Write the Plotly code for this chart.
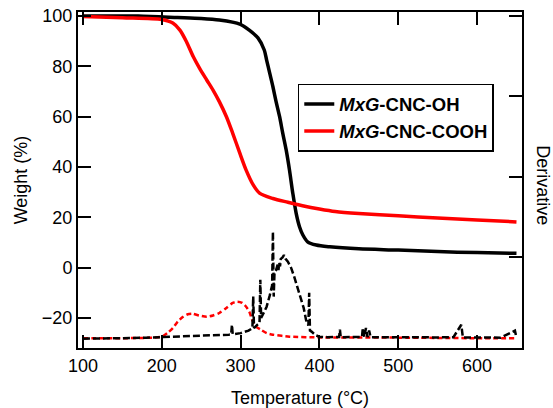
import plotly.graph_objects as go

# ---- Data ----
# TGA weight curves (Weight %, vs Temperature °C)
t_oh = [100, 170, 220, 250, 273, 299, 311, 322, 330, 333, 337, 341, 345, 349.4, 353.5,
        357.8, 362, 366.2, 370.5, 374.7, 379, 385, 396, 413, 450, 500, 550, 600, 650]
w_oh = [100.0, 100.0, 99.4, 99.0, 98.4, 96.8, 94.4, 91.3, 86.5, 82.5, 77.2, 71.9, 66, 60.1, 53.4,
        46.8, 38.8, 29.6, 21.6, 16.3, 13, 10.3, 9.0, 8.3, 7.5, 7.0, 6.4, 6.0, 5.7]

t_cooh = [100, 150, 200, 214, 223, 231, 240, 248, 257, 265, 273, 282, 290, 299, 307,
          316, 324, 341, 360, 380, 400, 420, 450, 500, 550, 600, 650]
w_cooh = [99.8, 99.3, 98.6, 97.2, 94.4, 90.0, 83.8, 79.2, 74.6, 70.6, 66.0, 60.0, 53.4,
          45.5, 38.8, 32.9, 29.6, 27.5, 26.0, 24.5, 23.3, 22.3, 21.5, 20.6, 19.8, 19.0, 18.2]

# Derivative curves (arbitrary units on the right-hand axis)
td_oh = [100, 120, 150, 180, 200, 230, 260, 285, 288, 289, 290, 300, 310, 315, 316, 317, 320,
         324, 325, 326, 330, 333, 337, 340, 341, 342, 343, 345, 347, 348, 349, 350, 351, 353,
         355, 357, 360, 364, 368, 372, 377, 380, 383, 386, 387, 388, 390, 395, 400, 410, 425,
         426, 427, 440, 454, 455, 457, 459, 461, 463, 465, 480, 500, 520, 550, 570, 580, 582,
         600, 630, 648, 650]
d_oh = [-0.017, -0.011, -0.011, -0.004, 0.002, 0.008, 0.021, 0.033, 0.036, 0.156, 0.036, 0.052,
        0.083, 0.115, 0.507, 0.115, 0.146, 0.177, 0.717, 0.240, 0.319, 0.381, 0.522, 0.648,
        1.315, 0.507, 0.804, 0.836, 0.905, 0.836, 0.930, 0.883, 0.977, 0.992, 1.024, 0.977,
        0.942, 0.867, 0.754, 0.632, 0.469, 0.366, 0.218, 0.146, 0.554, 0.083, 0.071, 0.027,
        0.008, 0.002, 0.005, 0.096, 0.002, 0.002, 0.005, 0.115, 0.005, 0.115, 0.002, 0.083,
        0.002, 0.002, -0.001, 0.002, -0.001, 0.002, 0.156, -0.001, -0.001, -0.004, 0.083,
        -0.004]

td_cooh = [100, 150, 190, 200, 207, 214, 220, 227, 233, 239, 247, 257, 265, 273, 282, 290,
           296, 302, 307, 311, 315, 320, 325, 333, 341, 362, 400, 500, 600, 650]
d_cooh = [-0.011, -0.011, -0.004, 0.008, 0.052, 0.115, 0.193, 0.256, 0.287, 0.293, 0.272,
          0.256, 0.272, 0.303, 0.366, 0.428, 0.444, 0.428, 0.381, 0.319, 0.209, 0.131, 0.099,
          0.052, 0.033, 0.008, -0.001, -0.004, -0.011, -0.011]

names = ["<b><i>MxG</i>-CNC-OH</b>", "<b><i>MxG</i>-CNC-COOH</b>"]
x_ticks = [100, 200, 300, 400, 500, 600]
y_ticks = [-20, 0, 20, 40, 60, 80, 100]
y2_ticks = [1, 2, 3, 4]

FONT = "Arial, Liberation Sans, Helvetica, sans-serif"

fig = go.Figure()
fig.add_trace(go.Scatter(x=td_cooh, y=d_cooh, yaxis="y2", mode="lines", showlegend=False,
                         line=dict(color="#ff0000", width=2.5, dash="5px,3px",
                                   shape="spline", smoothing=0.6)))
fig.add_trace(go.Scatter(x=td_oh, y=d_oh, yaxis="y2", mode="lines", showlegend=False,
                         line=dict(color="black", width=2.5, dash="7px,3px")))
fig.add_trace(go.Scatter(x=t_oh, y=w_oh, mode="lines", name=names[0],
                         line=dict(color="black", width=3.5, shape="spline", smoothing=0.8)))
fig.add_trace(go.Scatter(x=t_cooh, y=w_cooh, mode="lines", name=names[1],
                         line=dict(color="#ff0000", width=3.5, shape="spline", smoothing=0.8)))

axis_common = dict(showgrid=False, zeroline=False, showline=True, linecolor="black",
                   linewidth=2, ticks="inside", ticklen=13, tickwidth=1.5, tickcolor="black",
                   automargin=False,
                   tickfont=dict(family=FONT, size=18, color="black"))

fig.update_layout(
    width=553, height=408,
    margin=dict(l=78, r=31, t=12, b=60),
    paper_bgcolor="white", plot_bgcolor="white",
    font=dict(family=FONT, size=18, color="black"),
    xaxis=dict(range=[93.7, 657], tickvals=x_ticks, mirror="ticks",
               title=dict(text="Temperature (°C)", font=dict(family=FONT, size=18), standoff=17),
               **axis_common),
    yaxis=dict(range=[-31.9, 101.6], tickvals=y_ticks,
               title=dict(text="Weight (%)", font=dict(family=FONT, size=18), standoff=10),
               **axis_common),
    yaxis2=dict(range=[-0.133, 4.05], tickvals=y2_ticks, overlaying="y", side="right",
                showticklabels=False, **axis_common),
    legend=dict(x=0.495, y=0.786, xanchor="left", yanchor="top",
                bgcolor="white", bordercolor="black", borderwidth=1.5,
                font=dict(family=FONT, size=18.5, color="black"),
                tracegroupgap=0, itemwidth=30),
    annotations=[dict(text="Derivative", textangle=90, xref="paper", yref="paper",
                      x=1.047, y=0.485, xanchor="center", yanchor="middle", showarrow=False,
                      font=dict(family=FONT, size=18, color="black"))],
)

fig.write_html("out.html")
